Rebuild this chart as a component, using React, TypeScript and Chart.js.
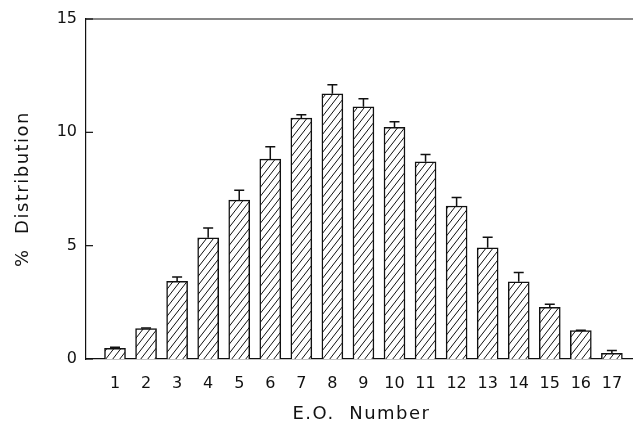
import React, { useEffect, useRef } from "react";
import { Chart, registerables } from "chart.js";

Chart.register(...registerables);

const categories = [1, 2, 3, 4, 5, 6, 7, 8, 9, 10, 11, 12, 13, 14, 15, 16, 17];
const distribution = [0.47, 1.34, 3.43, 5.35, 7.01, 8.82, 10.63, 11.7, 11.13, 10.22, 8.7, 6.75, 4.91, 3.41, 2.28, 1.25, 0.25];
const errors = [0.05, 0.03, 0.19, 0.43, 0.44, 0.54, 0.15, 0.4, 0.35, 0.25, 0.32, 0.38, 0.46, 0.41, 0.13, 0.02, 0.12];
const yTicks = [0, 5, 10, 15];
const xTitle = "E.O.  Number";
const yTitle = "%  Distribution";

const FONT = "'DejaVu Sans', sans-serif";

function makeHatch(ctx: CanvasRenderingContext2D): CanvasPattern | string {
  const w = 7, h = 9;
  const c = document.createElement("canvas");
  c.width = w; c.height = h;
  const g = c.getContext("2d");
  if (!g) return "#fff";
  g.fillStyle = "#fff";
  g.fillRect(0, 0, w, h);
  g.strokeStyle = "#111";
  g.lineWidth = 1;
  g.beginPath();
  g.moveTo(-w, 2 * h); g.lineTo(2 * w, -h);
  g.moveTo(-2 * w, 2 * h); g.lineTo(w, -h);
  g.moveTo(0, 2 * h); g.lineTo(3 * w, -h);
  g.stroke();
  return ctx.createPattern(c, "repeat") || "#fff";
}

const extras = {
  id: "extras",
  afterDatasetsDraw(chart: any) {
    const { ctx, chartArea, scales } = chart;
    const xs = scales.x, ys = scales.y;
    ctx.save();
    ctx.strokeStyle = "#111";
    ctx.lineWidth = 1.5;
    categories.forEach((c, i) => {
      const x = xs.getPixelForValue(c);
      const y0 = ys.getPixelForValue(distribution[i]);
      const y1 = ys.getPixelForValue(distribution[i] + errors[i]);
      ctx.beginPath();
      ctx.moveTo(x, y0);
      ctx.lineTo(x, y1);
      ctx.moveTo(x - 5, y1);
      ctx.lineTo(x + 5, y1);
      ctx.stroke();
    });
    ctx.lineWidth = 1.2;
    ctx.beginPath();
    ctx.moveTo(chartArea.left, chartArea.top);
    ctx.lineTo(chartArea.right, chartArea.top);
    ctx.stroke();
    yTicks.forEach((v) => {
      const y = ys.getPixelForValue(v);
      ctx.beginPath();
      ctx.moveTo(chartArea.left, y);
      ctx.lineTo(chartArea.left + 7, y);
      ctx.stroke();
    });
    ctx.fillStyle = "#111";
    ctx.font = `18px ${FONT}`;
    (ctx as any).letterSpacing = "1.5px";
    ctx.textAlign = "center";
    ctx.textBaseline = "alphabetic";
    ctx.fillText(xTitle, (chartArea.left + chartArea.right) / 2 + 2, 419);
    ctx.translate(28, (chartArea.top + chartArea.bottom) / 2);
    ctx.rotate(-Math.PI / 2);
    ctx.fillText(yTitle, 0, 0);
    ctx.restore();
  },
};

export default function App() {
  const ref = useRef<HTMLCanvasElement>(null);
  useEffect(() => {
    const canvas = ref.current;
    if (!canvas) return;
    const ctx = canvas.getContext("2d")!;
    const hatch = makeHatch(ctx);
    const chart = new Chart(canvas, {
      type: "bar",
      data: {
        datasets: [
          {
            data: categories.map((c, i) => ({ x: c, y: distribution[i] })),
            backgroundColor: hatch as any,
            borderColor: "#111",
            borderWidth: 1.5,
            borderSkipped: "bottom",
            barThickness: 21,
          },
        ],
      },
      options: {
        responsive: false,
        animation: false,
        layout: { padding: { top: 19, right: 0, left: 0, bottom: 0 } },
        plugins: { legend: { display: false }, tooltip: { enabled: false } },
        scales: {
          x: {
            type: "linear",
            offset: false,
            min: 0.066,
            max: 17.68,
            afterBuildTicks: (axis: any) => {
              axis.ticks = categories.map((v) => ({ value: v }));
            },
            afterFit: (s: any) => {
              s.height = 65;
              s.paddingLeft = 0;
              s.paddingRight = 0;
            },
            grid: { display: false, drawTicks: false, offset: false },
            border: { display: true, color: "#111", width: 1.2 },
            ticks: {
              color: "#111",
              font: { family: FONT, size: 16 },
              padding: 15,
              maxRotation: 0,
              autoSkip: false,
              callback: (v: any) => String(v),
            },
          },
          y: {
            min: 0,
            max: 15,
            afterBuildTicks: (axis: any) => {
              axis.ticks = yTicks.map((v) => ({ value: v }));
            },
            afterFit: (s: any) => {
              s.width = 86;
            },
            grid: { display: false, drawTicks: false },
            border: { display: true, color: "#111", width: 1.2 },
            ticks: {
              color: "#111",
              font: { family: FONT, size: 16 },
              padding: 9,
              callback: (v: any) => String(v),
            },
          },
        },
      },
      plugins: [extras],
    });
    return () => chart.destroy();
  }, []);
  return (
    <div style={{ position: "fixed", left: 0, top: 0, width: 633, height: 424, background: "#fff" }}>
      <canvas ref={ref} width={633} height={424} />
    </div>
  );
}
